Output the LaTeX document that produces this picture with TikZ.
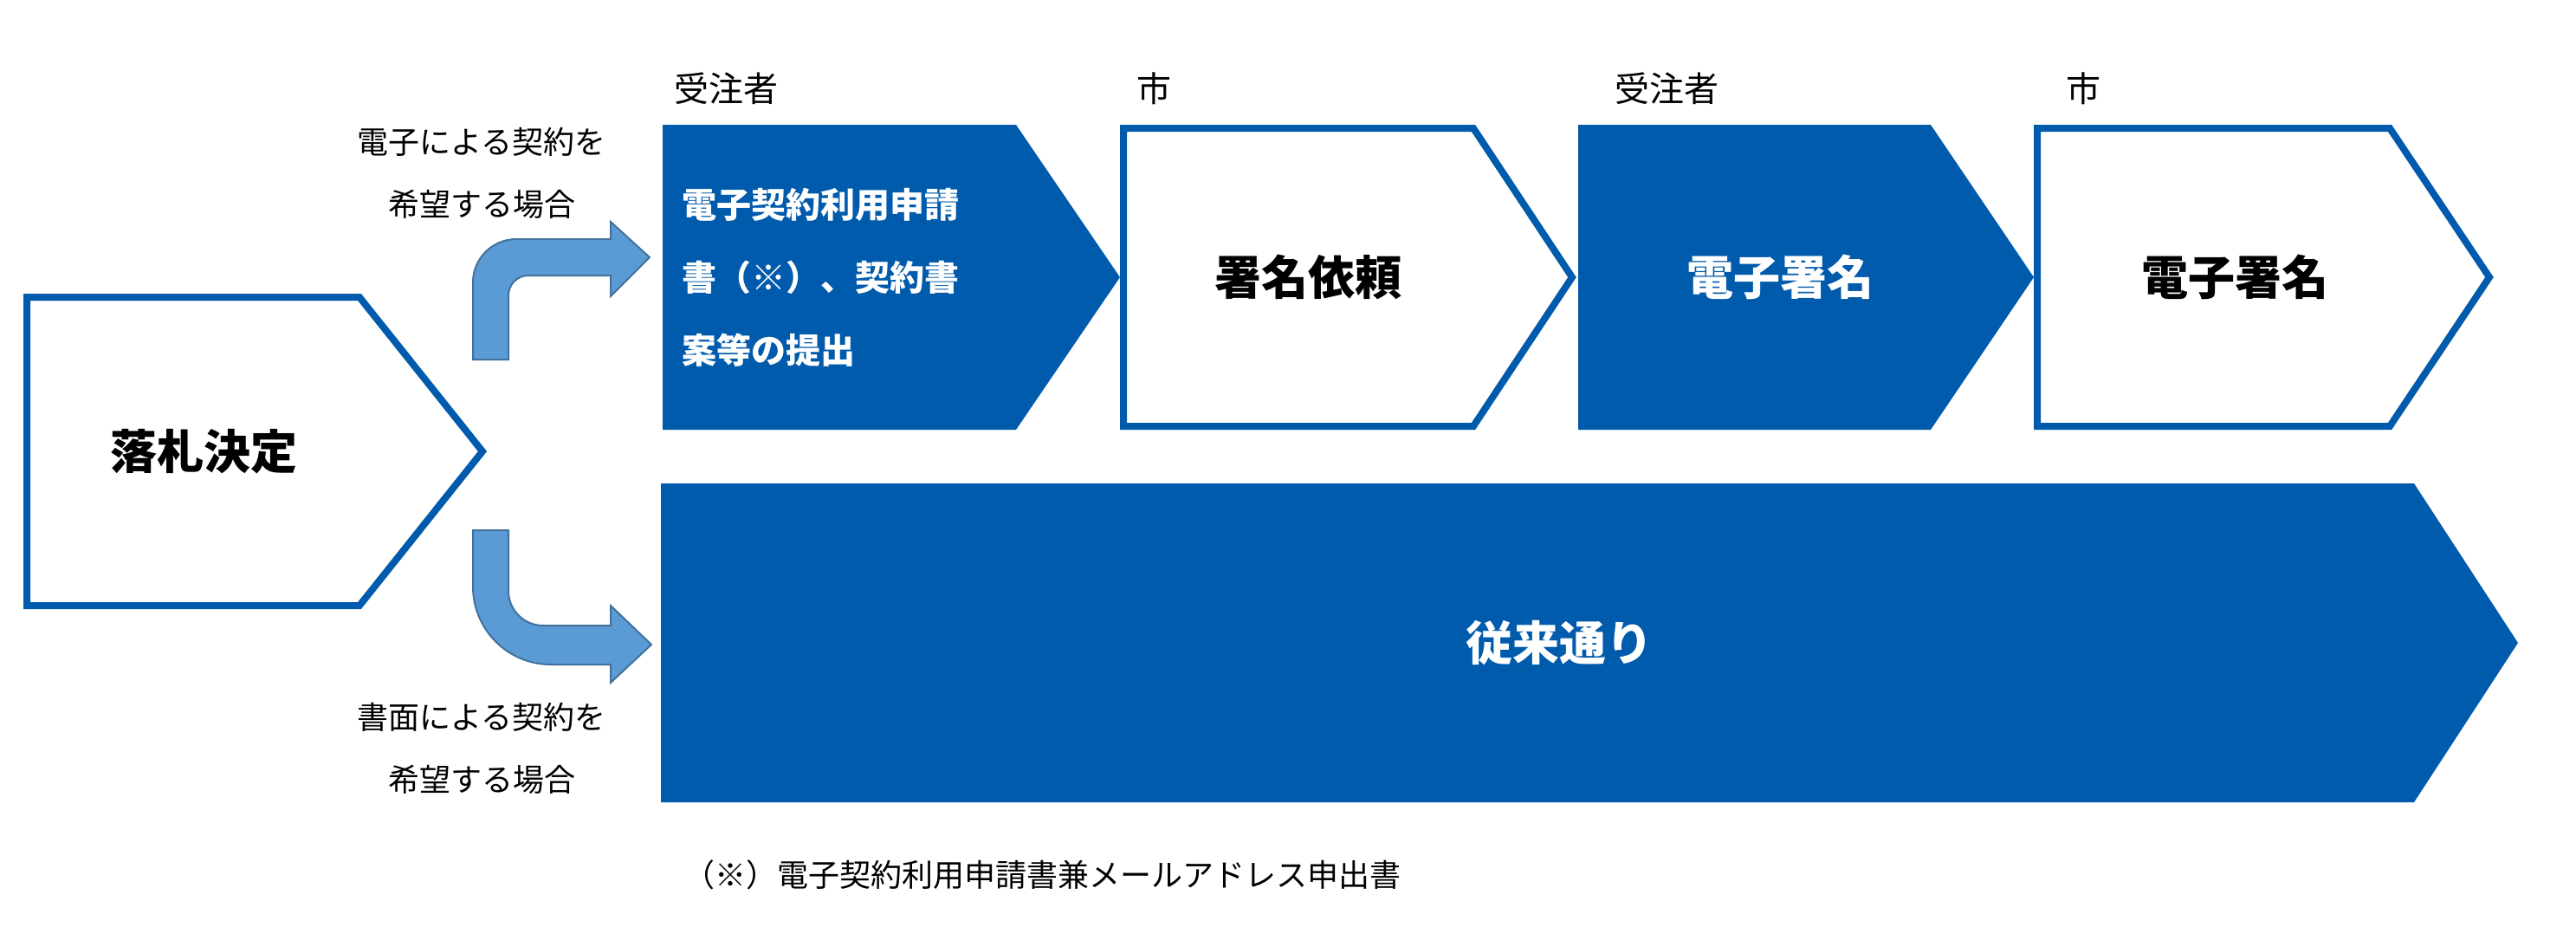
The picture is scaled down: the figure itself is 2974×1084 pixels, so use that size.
\documentclass[tikz,border=0pt]{standalone}
\usepackage{fontspec}
\setmainfont{Noto Sans CJK JP}
\newfontfamily\jpb{Noto Sans CJK JP}[BoldFont={* Bold}]
\definecolor{mainblue}{HTML}{005BAC}
\definecolor{arrowblue}{HTML}{5B9BD5}
\definecolor{arrowedge}{HTML}{41719C}
\begin{document}
\begin{tikzpicture}[x=0.5pt,y=-0.5pt,
  outl/.style={draw=mainblue,line width=4pt,fill=white},
  solid/.style={fill=mainblue},
  bent/.style={fill=arrowblue,draw=arrowedge,line width=1pt},
  btxt/.style={font=\fontsize{27}{32}\selectfont\bfseries},
  lbl/.style={font=\fontsize{20}{24}\selectfont},
  note/.style={font=\fontsize{18}{36}\selectfont,align=center}]
\useasboundingbox (0,0) rectangle (2974,1084);
% start box
\draw[outl] (31,343) -- (415,343) -- (557,521) -- (415,699) -- (31,699) -- cycle;
\node[btxt] (start) at (235,521) {落札決定};
% process boxes
\fill[solid] (765,144) -- (1173,144) -- (1293,320) -- (1173,496) -- (765,496) -- cycle;
\node[anchor=west,text=white,align=left,font=\fontsize{20}{42}\selectfont\bfseries] (b1) at (780,320) {電子契約利用申請\\書（※）、契約書\\案等の提出};
\draw[outl] (1297,148) -- (1701,148) -- (1815,320) -- (1701,492) -- (1297,492) -- cycle;
\node[btxt] (b2) at (1510,320) {署名依頼};
\fill[solid] (1822,144) -- (2229,144) -- (2348,320) -- (2229,496) -- (1822,496) -- cycle;
\node[btxt,text=white] (b3) at (2055,320) {電子署名};
\draw[outl] (2352,148) -- (2759,148) -- (2874,320) -- (2759,492) -- (2352,492) -- cycle;
\node[btxt] (b4) at (2580,320) {電子署名};
% big bar
\fill[solid] (763,558) -- (2787,558) -- (2907,742) -- (2787,926) -- (763,926) -- cycle;
\node[btxt,text=white] (bar) at (1800,742) {従来通り};
% role labels
\node[lbl] (r1) at (838,102) {受注者};
\node[lbl] (r2) at (1332,102) {市};
\node[lbl] (r3) at (1924,102) {受注者};
\node[lbl] (r4) at (2405,102) {市};
% side labels
\node[note] (n1) at (556,200) {電子による契約を\\希望する場合};
\node[note] (n2) at (556,864) {書面による契約を\\希望する場合};
% bent arrows
\draw[bent] (546,415) -- (546,326) arc (180:270:50) -- (705,276) -- (705,256) -- (750,297) -- (705,342) -- (705,318) -- (610,318) arc (270:180:23) -- (587,415) -- cycle;
\draw[bent] (546,612) -- (546,677) arc (180:90:90) -- (705,767) -- (705,788) -- (752,744) -- (705,699) -- (705,722) -- (627,722) arc (90:180:40) -- (587,612) -- cycle;
% footnote
\node[anchor=west,lbl,font=\fontsize{18}{22}\selectfont] (fn) at (782,1010) {（※）電子契約利用申請書兼メールアドレス申出書};
\end{tikzpicture}
\end{document}
